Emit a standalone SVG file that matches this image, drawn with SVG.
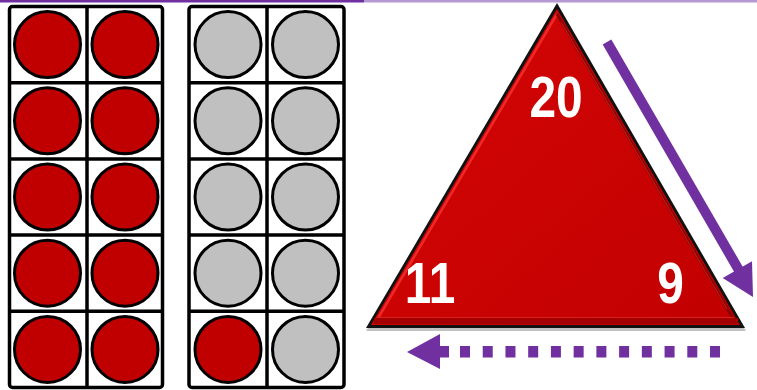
<svg xmlns="http://www.w3.org/2000/svg" width="757" height="390" viewBox="0 0 757 390">
  <style>
    .grid { fill: #ffffff; stroke: #000000; stroke-width: 3.5; }
    .gline { stroke: #000000; stroke-width: 3.5; fill: none; }
    .red { fill: #c00000; stroke: #000000; stroke-width: 3; }
    .grey { fill: #c0c0c0; stroke: #000000; stroke-width: 3; }
    .num { font-family: "Liberation Sans", Arial, sans-serif; font-weight: bold; font-size: 57px; fill: #ffffff; text-anchor: middle; }
    .purple { fill: #7030a0; }
  </style>
  <defs>
    <linearGradient id="triFill" x1="0" y1="0" x2="1" y2="1">
      <stop offset="0" stop-color="#d40606"/>
      <stop offset="1" stop-color="#c20000"/>
    </linearGradient>
  </defs>

  <!-- top rule -->
  <rect x="0" y="0" width="364" height="2.5" fill="#7030a0"/>
  <rect x="364" y="0" width="393" height="2.5" fill="#b49ad0"/>

  <!-- left ten-frame -->
  <g id="frame-left">
    <rect class="grid" x="9.5" y="6.5" width="153" height="381" rx="3"/>
    <line class="gline" x1="87" y1="6.5" x2="87" y2="387.5"/>
    <line class="gline" x1="9.5" y1="82.7" x2="162.5" y2="82.7"/>
    <line class="gline" x1="9.5" y1="158.9" x2="162.5" y2="158.9"/>
    <line class="gline" x1="9.5" y1="235.1" x2="162.5" y2="235.1"/>
    <line class="gline" x1="9.5" y1="311.3" x2="162.5" y2="311.3"/>
    <circle class="red" cx="47.5" cy="44.6" r="33"/>
    <circle class="red" cx="125" cy="44.6" r="33"/>
    <circle class="red" cx="47.5" cy="120.8" r="33"/>
    <circle class="red" cx="125" cy="120.8" r="33"/>
    <circle class="red" cx="47.5" cy="197" r="33"/>
    <circle class="red" cx="125" cy="197" r="33"/>
    <circle class="red" cx="47.5" cy="273.2" r="33"/>
    <circle class="red" cx="125" cy="273.2" r="33"/>
    <circle class="red" cx="47.5" cy="349.4" r="33"/>
    <circle class="red" cx="125" cy="349.4" r="33"/>
  </g>

  <!-- right ten-frame -->
  <g id="frame-right">
    <rect class="grid" x="189" y="6.5" width="155" height="381" rx="3"/>
    <line class="gline" x1="267" y1="6.5" x2="267" y2="387.5"/>
    <line class="gline" x1="189" y1="82.7" x2="344" y2="82.7"/>
    <line class="gline" x1="189" y1="158.9" x2="344" y2="158.9"/>
    <line class="gline" x1="189" y1="235.1" x2="344" y2="235.1"/>
    <line class="gline" x1="189" y1="311.3" x2="344" y2="311.3"/>
    <circle class="grey" cx="228" cy="44.6" r="33"/>
    <circle class="grey" cx="305.5" cy="44.6" r="33"/>
    <circle class="grey" cx="228" cy="120.8" r="33"/>
    <circle class="grey" cx="305.5" cy="120.8" r="33"/>
    <circle class="grey" cx="228" cy="197" r="33"/>
    <circle class="grey" cx="305.5" cy="197" r="33"/>
    <circle class="grey" cx="228" cy="273.2" r="33"/>
    <circle class="grey" cx="305.5" cy="273.2" r="33"/>
    <circle class="red" cx="228" cy="349.4" r="33"/>
    <circle class="grey" cx="305.5" cy="349.4" r="33"/>
  </g>

  <!-- number triangle -->
  <g id="triangle">
    <polygon points="557,6 366,331 746,331" fill="#9a9a9a" opacity="0.6"/>
    <polygon points="557,3 366,328 745,328" fill="#111111"/>
    <polygon points="557,9 371,325 740,325" fill="url(#triFill)"/>
    <polyline points="377,320 557,14" fill="none" stroke="#f02828" stroke-width="2.5"/>
    <polyline points="557,14 734,320" fill="none" stroke="#8e0000" stroke-width="3"/>
    <polyline points="561,22 727,309" fill="none" stroke="#d83030" stroke-width="1" opacity="0.7"/>
    <rect x="374" y="318" width="364" height="6" fill="#a30000"/>
    <line x1="378" y1="317.5" x2="734" y2="317.5" stroke="#d82020" stroke-width="1"/>
    <text class="num" transform="translate(556,117) scale(0.84,1)">20</text>
    <text class="num" transform="translate(430,303) scale(0.84,1)">11</text>
    <text class="num" transform="translate(670.5,303) scale(0.84,1)">9</text>
  </g>

  <!-- arrows -->
  <g id="connectors">
    <line x1="607" y1="42" x2="740" y2="272" stroke="#7030a0" stroke-width="10"/>
    <polygon class="purple" points="753,297 752,261.2 722.7,278"/>
    <polygon class="purple" points="407,352 440,334 440,369"/>
    <rect class="purple" x="438" y="346" width="11" height="11.5"/>
    <line x1="460" y1="351.7" x2="720" y2="351.7" stroke="#7030a0" stroke-width="11.5" stroke-dasharray="10 12.73"/>
  </g>
</svg>
